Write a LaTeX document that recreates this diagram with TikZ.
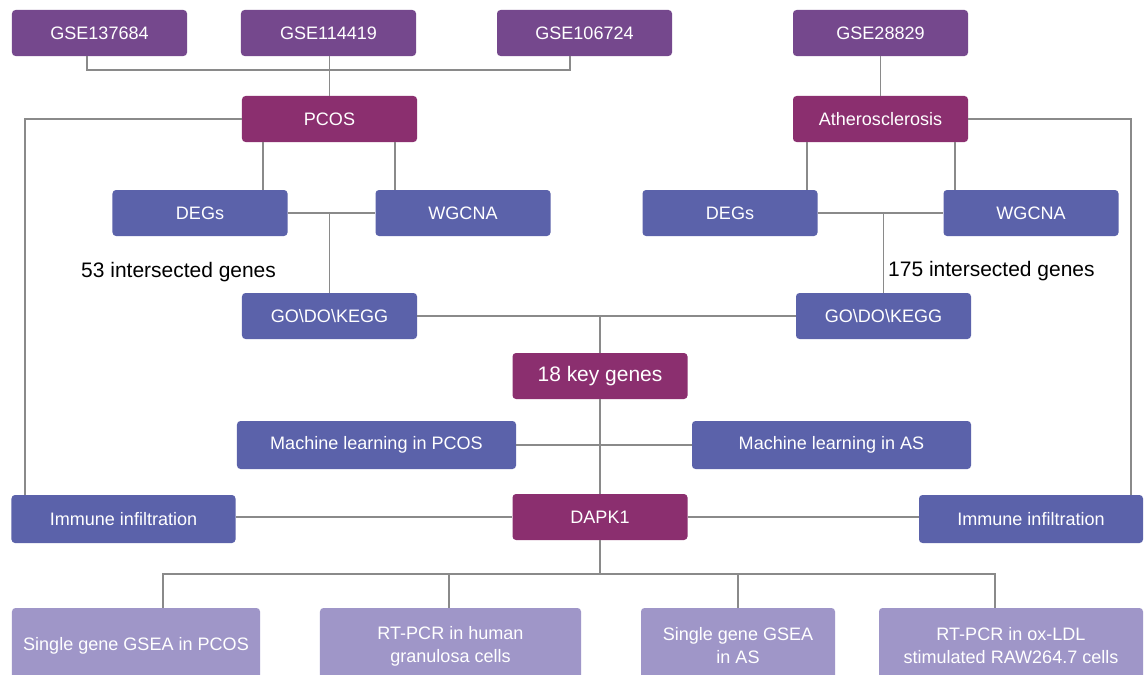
\documentclass[tikz,border=0pt]{standalone}
\usepackage{fontspec}
\setmainfont{Liberation Sans}
\usepackage{tikz}
\usetikzlibrary{positioning}

\definecolor{gsepurple}{RGB}{117,72,141}
\definecolor{diseasered}{RGB}{139,47,111}
\definecolor{methodblue}{RGB}{91,98,170}
\definecolor{resultlilac}{RGB}{159,150,200}
\definecolor{linegray}{RGB}{138,138,138}

\begin{document}
\begin{tikzpicture}[
    x=0.03cm, y=-0.03cm,
    block/.style={rounded corners=3pt, text=white, minimum width=5.25cm, minimum height=1.38cm,
        inner sep=0pt, align=center, font=\fontsize{15.4}{18.5}\selectfont},
    gse/.style={block, fill=gsepurple},
    disease/.style={block, fill=diseasered},
    method/.style={block, fill=methodblue},
    result/.style={block, fill=resultlilac, minimum height=2.28cm, font=\fontsize{15.4}{19.6}\selectfont},
    count/.style={anchor=base west, inner sep=0pt, font=\fontsize{17.9}{21}\selectfont},
    link/.style={draw=linegray, line width=1.6pt}
]
\useasboundingbox (0,0) rectangle (1146,675);
\clip (0,0) rectangle (1146,675);
\fill[white] (0,0) rectangle (1146,675);

% datasets
\node[gse] (g1) at (99.5,33) {GSE137684};
\node[gse] (g2) at (328.5,33) {GSE114419};
\node[gse] (g3) at (584.5,33) {GSE106724};
\node[gse] (g4) at (880.5,33) {GSE28829};

% diseases
\node[disease] (pcos) at (329.5,119) {PCOS};
\node[disease] (athero) at (880.5,119) {Atherosclerosis};

% analysis
\node[method] (degL) at (200,213) {DEGs};
\node[method] (wgL) at (463,213) {WGCNA};
\node[method] (degR) at (730,213) {DEGs};
\node[method] (wgR) at (1031,213) {WGCNA};
\node[count] (cntL) at (81,277) {53 intersected genes};
\node[count] (cntR) at (888,276) {175 intersected genes};
\node[method] (goL) at (329.5,316) {GO\textbackslash DO\textbackslash KEGG};
\node[method] (goR) at (883.5,316) {GO\textbackslash DO\textbackslash KEGG};

\node[disease, font=\fontsize{17.9}{21}\selectfont] (key) at (600,376) {18 key genes};
\node[method, minimum width=8.37cm, minimum height=1.44cm] (mlL) at (376.5,445) {Machine learning in PCOS};
\node[method, minimum width=8.37cm, minimum height=1.44cm] (mlR) at (831.5,445) {Machine learning in AS};

\node[disease] (dapk) at (600,517) {DAPK1};
\node[method, minimum width=6.72cm, minimum height=1.44cm] (immL) at (123.5,519) {Immune infiltration};
\node[method, minimum width=6.72cm, minimum height=1.44cm] (immR) at (1031,519) {Immune infiltration};

% validation
\node[result, minimum width=7.44cm] (gseaL) at (136,646) {Single gene GSEA in PCOS};
\node[result, minimum width=7.83cm] (pcrL) at (450.5,646) {RT-PCR in human\\granulosa cells};
\node[result, minimum width=5.82cm] (gseaR) at (738,646) {Single gene GSEA\\in AS};
\node[result, minimum width=7.92cm] (pcrR) at (1011,646) {RT-PCR in ox-LDL\\stimulated RAW264.7 cells};
\coordinate (bus) at (600,574);

% connectors
\draw[link] (g1.south -| 87,0) -- ++(0,14) -| (g3.south -| 570,0);
\draw[link] (g2.south -| pcos.north) -- (pcos);
\draw[link] (g4) -- (athero);

\draw[link] (pcos.south -| 263,0) -- (degL.north -| 263,0);
\draw[link] (pcos.south -| 395,0) -- (wgL.north -| 395,0);
\draw[link] (athero.south -| 807,0) -- (degR.north -| 807,0);
\draw[link] (athero.south -| 955,0) -- (wgR.north -| 955,0);

\draw[link] (degL) -- (wgL);
\draw[link] (degL.east -| goL) -- (goL);
\draw[link] (degR) -- (wgR);
\draw[link] (degR.east -| goR) -- (goR);

\draw[link] (goL) -- (goR);
\draw[link] (goL.east -| key) -- (key);
\draw[link] (key) -- (dapk);
\draw[link] (mlL) -- (mlR);

\draw[link] (pcos.west) -| (immL.north -| 25,0);
\draw[link] (athero.east) -| (immR.north -| 1131,0);
\draw[link] (immL.east |- dapk) -- (dapk);
\draw[link] (dapk) -- (immR.west |- dapk);

\draw[link] (dapk) -- (bus);
\draw[link] (gseaL.north -| 163,0) |- (bus) -| (pcrR.north -| 995,0);
\draw[link] (bus -| 449,0) -- (pcrL.north -| 449,0);
\draw[link] (bus -| gseaR) -- (gseaR);

\end{tikzpicture}
\end{document}
